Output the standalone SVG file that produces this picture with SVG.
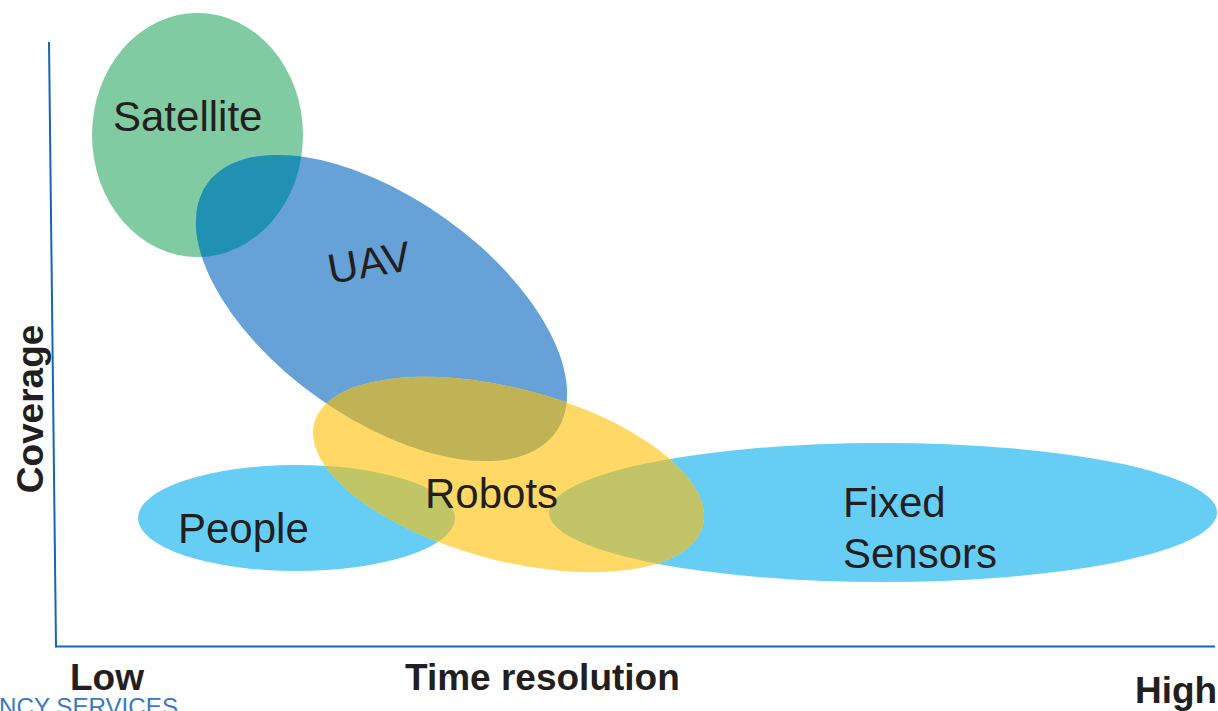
<svg xmlns="http://www.w3.org/2000/svg" width="1218" height="711" viewBox="0 0 1218 711">
  <style>
    .lbl { font-family: "Liberation Sans", Arial, sans-serif; font-size: 42px; fill: #231F20; }
    .ax { font-family: "Liberation Sans", Arial, sans-serif; font-size: 37px; font-weight: bold; fill: #231F20; }
    .axis { fill: none; stroke: #1565B8; stroke-width: 2; }
  </style>
  <defs>
    <!-- shared ellipse shapes, reused for fills and overlap clips -->
    <ellipse id="shSat" cx="197.5" cy="135" rx="105.5" ry="122"/>
    <ellipse id="shUav" cx="381.5" cy="308" rx="214" ry="110" transform="rotate(35.45 381.5 308)"/>
    <ellipse id="shRob" cx="508.5" cy="474.5" rx="201" ry="86" transform="rotate(14.8 508.5 474.5)"/>
    <ellipse id="shPeo" cx="296.5" cy="518" rx="158.5" ry="53"/>
    <ellipse id="shFix" cx="883" cy="512.5" rx="334" ry="69.5"/>
    <clipPath id="clipSat"><use href="#shSat"/></clipPath>
    <clipPath id="clipUav"><use href="#shUav"/></clipPath>
    <clipPath id="clipRob"><use href="#shRob"/></clipPath>
  </defs>

  <!-- axes -->
  <g id="axes">
    <polyline class="axis" points="49,42 56,646.5 1215,646.5"/>
  </g>

  <g id="satellite">
    <use href="#shSat" fill="#80CBA1"/>
  </g>
  <g id="uav">
    <use href="#shUav" fill="#66A2D8"/>
    <use href="#shUav" fill="#2191B1" clip-path="url(#clipSat)"/>
  </g>
  <g id="people">
    <use href="#shPeo" fill="#66CEF5"/>
  </g>
  <g id="fixed-sensors">
    <use href="#shFix" fill="#66CEF5"/>
  </g>
  <g id="robots">
    <use href="#shRob" fill="#FFD866"/>
    <use href="#shUav" fill="#BFB356" clip-path="url(#clipRob)"/>
    <use href="#shPeo" fill="#C0C566" clip-path="url(#clipRob)"/>
    <use href="#shFix" fill="#C1C567" clip-path="url(#clipRob)"/>
  </g>

  <!-- node labels -->
  <g id="labels">
    <text class="lbl" x="113" y="131">Satellite</text>
    <text class="lbl" x="369" y="277" text-anchor="middle" transform="rotate(-10 369 262)">UAV</text>
    <text class="lbl" x="425" y="508">Robots</text>
    <text class="lbl" x="178" y="543">People</text>
    <text class="lbl" x="843" y="517">Fixed</text>
    <text class="lbl" x="843" y="568">Sensors</text>
  </g>

  <!-- axis captions -->
  <g id="axis-labels">
    <text class="ax" transform="translate(43 409) rotate(-90)" text-anchor="middle">Coverage</text>
    <text class="ax" x="70" y="690">Low</text>
    <text class="ax" x="405" y="690">Time resolution</text>
    <text class="ax" x="1135" y="703">High</text>
  </g>

  <text x="-1" y="714.5" font-family="'Liberation Sans', Arial, sans-serif" font-size="23" fill="#3A78BF" textLength="179" lengthAdjust="spacingAndGlyphs">NCY SERVICES</text>
</svg>
